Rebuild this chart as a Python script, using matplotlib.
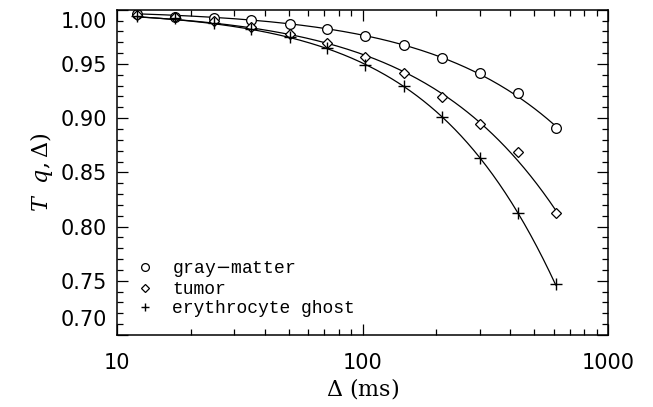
import numpy as np
import matplotlib
matplotlib.use("Agg")
import matplotlib.pyplot as plt
from matplotlib.transforms import ScaledTranslation

plt.rcParams['mathtext.fontset'] = 'dejavuserif'

# diffusion time (ms)
delta = [12.1, 17.3, 24.8, 35.3, 50.6, 71.8, 102.8, 147.2, 210.2, 300.2, 428.6, 612.5]

gray_matter = [0.9960, 0.9935, 0.9921, 0.9905, 0.9868, 0.9822, 0.9757, 0.9674,
               0.9552, 0.9416, 0.9229, 0.8906]
tumor = [0.9954, 0.9930, 0.9899, 0.9843, 0.9780, 0.9690, 0.9566, 0.9419,
         0.9192, 0.8948, 0.8687, 0.8122]
erythrocyte = [0.9942, 0.9921, 0.9880, 0.9819, 0.9748, 0.9644, 0.9490, 0.9296,
               0.9013, 0.8629, 0.8122, 0.7470]

series = [
    ('gray$-$matter', gray_matter, 'o'),
    ('tumor', tumor, 'D'),
    ('erythrocyte ghost', erythrocyte, '+'),
]

y_ticks = [0.70, 0.75, 0.80, 0.85, 0.90, 0.95, 1.00]
x_ticks = [10, 100, 1000]
x_tick_labels = ['10', '100', '1000']


def fit_curve(x, y):
    # stretched exponential y = exp(-c * x**p), fitted in log space
    x = np.asarray(x)
    y = np.asarray(y)
    w = -y * np.log(y)
    p, lc = np.polyfit(np.log(x), np.log(-np.log(y)), 1, w=w)
    xs = np.logspace(np.log10(x[0]), np.log10(x[-1]), 200)
    return xs, np.exp(-np.exp(lc) * xs ** p)


fig = plt.figure(figsize=(6.53, 4.07), dpi=100)
ax = fig.add_axes([117 / 653, 1 - 335 / 407, 491 / 653, 325.3 / 407])

for label, vals, m in series:
    xs, ys = fit_curve(delta, vals)
    ax.plot(xs, ys, color='black', lw=0.9)
    if m == '+':
        ax.plot(delta, vals, ls='none', marker='+', ms=8, mew=1.0,
                color='black', label=label)
    elif m == 'D':
        ax.plot(delta, vals, ls='none', marker='D', ms=5.5, mew=0.9,
                mfc='white', mec='black', label=label)
    else:
        ax.plot(delta, vals, ls='none', marker='o', ms=7, mew=0.9,
                mfc='white', mec='black', label=label)

ax.set_xscale('log')
ax.set_xlim(10, 1000)
ax.set_ylim(0.70, 1.00)
ax.set_xticks(x_ticks)
ax.set_xticklabels(x_tick_labels)
ax.set_yticks(y_ticks)
ax.set_yticklabels(['%.2f' % v for v in y_ticks])
ax.set_yticks(np.arange(0.70, 1.0001, 0.01), minor=True)

ax.tick_params(which='both', direction='in', top=True, right=True, width=0.9,
               labelsize=15)
ax.tick_params(which='major', length=8)
ax.tick_params(which='minor', length=4)
ax.tick_params(axis='x', pad=13)
ax.tick_params(axis='y', pad=7)
for s in ax.spines.values():
    s.set_linewidth(1.1)

# extreme y labels pushed inside like the original
labs = ax.get_yticklabels()
labs[0].set_transform(labs[0].get_transform() + ScaledTranslation(0, 0.17, fig.dpi_scale_trans))
labs[-1].set_transform(labs[-1].get_transform() + ScaledTranslation(0, -0.10, fig.dpi_scale_trans))

ax.set_xlabel(r'$\Delta$ (ms)', family='DejaVu Serif', fontsize=16, labelpad=2)
ax.set_ylabel(r'$T$  $q,\Delta)$', family='DejaVu Serif', fontsize=16, labelpad=4)

ax.legend(loc='lower left', bbox_to_anchor=(0.039, 0.055), borderaxespad=0,
          borderpad=0, frameon=False, handlelength=1.0, handletextpad=1.0,
          labelspacing=0.1, markerscale=0.8,
          prop={'family': 'Liberation Mono', 'size': 13})

fig.savefig('out.png', dpi=100)
